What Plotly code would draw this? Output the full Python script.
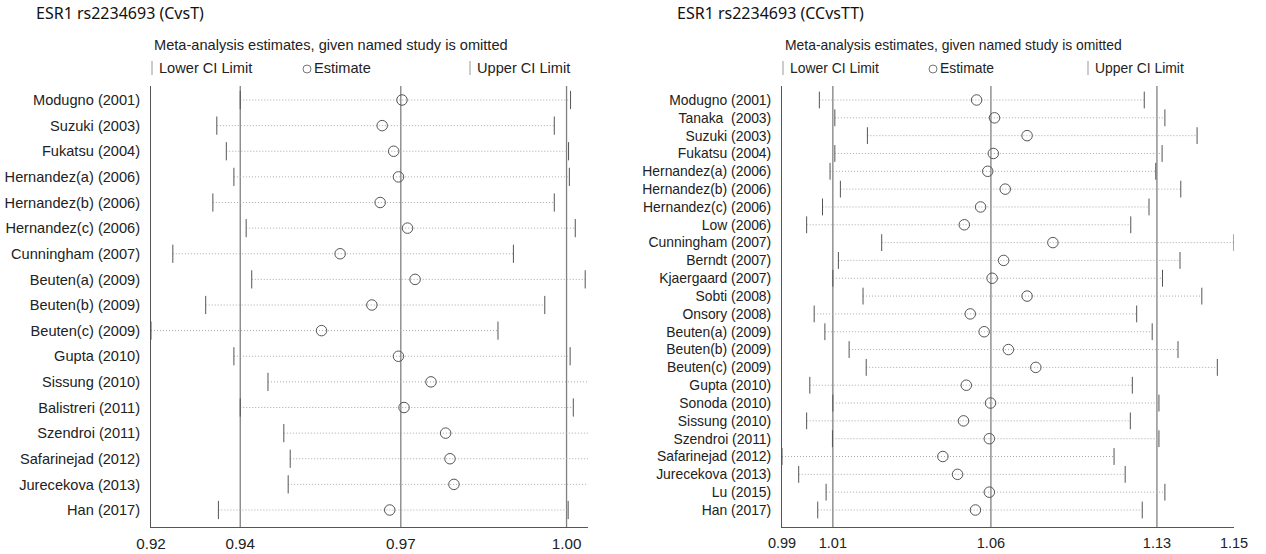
import plotly.graph_objects as go

# ---------------- data (left panel: CvsT) ----------------
left_title = "ESR1 rs2234693 (CvsT)"
left_studies = ["Modugno (2001)", "Suzuki (2003)", "Fukatsu (2004)", "Hernandez(a) (2006)",
                "Hernandez(b) (2006)", "Hernandez(c) (2006)", "Cunningham (2007)", "Beuten(a) (2009)",
                "Beuten(b) (2009)", "Beuten(c) (2009)", "Gupta (2010)", "Sissung (2010)",
                "Balistreri (2011)", "Szendroi (2011)", "Safarinejad (2012)", "Jurecekova (2013)",
                "Han (2017)"]
left_lower = [0.93718, 0.93267, 0.93450, 0.93596, 0.93191, 0.93832, 0.92420, 0.93939,
              0.93053, 0.92000, 0.93596, 0.94252, 0.93718, 0.94557, 0.94680, 0.94641, 0.93298]
left_est = [0.96832, 0.96451, 0.96672, 0.96764, 0.96412, 0.96939, 0.95641, 0.97084,
            0.96252, 0.95283, 0.96764, 0.97390, 0.96871, 0.97672, 0.97756, 0.97832, 0.96596]
left_upper = [1.00077, 0.99764, 1.00039, 1.00054, 0.99764, 1.00168, 0.98977, 1.00359,
              0.99581, 0.98680, 1.00069, 1.00500, 1.00130, 1.00500, 1.00500, 1.00500, 1.00031]
left_ref = [0.93718, 0.96809, 1.00000]          # overall lower CI, estimate, upper CI
left_tickvals = [0.92, 0.93718, 0.96809, 1.00000]
left_ticktext = ["0.92", "0.94", "0.97", "1.00"]
left_range = [0.92, 1.00413]

# ---------------- data (right panel: CCvsTT) ----------------
right_title = "ESR1 rs2234693 (CCvsTT)"
right_studies = ["Modugno (2001)", "Tanaka  (2003)", "Suzuki (2003)", "Fukatsu (2004)",
                 "Hernandez(a) (2006)", "Hernandez(b) (2006)", "Hernandez(c) (2006)", "Low (2006)",
                 "Cunningham (2007)", "Berndt (2007)", "Kjaergaard (2007)", "Sobti (2008)",
                 "Onsory (2008)", "Beuten(a) (2009)", "Beuten(b) (2009)", "Beuten(c) (2009)",
                 "Gupta (2010)", "Sonoda (2010)", "Sissung (2010)", "Szendroi (2011)",
                 "Safarinejad (2012)", "Jurecekova (2013)", "Lu (2015)", "Han (2017)"]
right_lower = [1.00322, 1.00870, 1.02023, 1.00870, 1.00701, 1.01067, 1.00434, 0.99872,
               1.02529, 1.00996, 1.00800, 1.01868, 1.00139, 1.00518, 1.01376, 1.01981,
               0.99984, 1.00800, 0.99872, 1.00786, 0.99000, 0.99591, 1.00561, 1.00265]
right_est = [1.05889, 1.06522, 1.07675, 1.06480, 1.06283, 1.06902, 1.06030, 1.05453,
             1.08589, 1.06845, 1.06438, 1.07675, 1.05664, 1.06156, 1.07014, 1.07984,
             1.05524, 1.06381, 1.05425, 1.06339, 1.04694, 1.05214, 1.06339, 1.05847]
right_upper = [1.11823, 1.12554, 1.13693, 1.12455, 1.12230, 1.13116, 1.11991, 1.11345,
               1.15000, 1.13088, 1.12469, 1.13861, 1.11555, 1.12104, 1.13018, 1.14410,
               1.11401, 1.12343, 1.11330, 1.12343, 1.10754, 1.11148, 1.12554, 1.11752]
right_ref = [1.00800, 1.06395, 1.12272]
right_tickvals = [0.99, 1.00800, 1.06395, 1.12272, 1.15]
right_ticktext = ["0.99", "1.01", "1.06", "1.13", "1.15"]
right_range = [0.99, 1.15]

# ---------------- layout constants ----------------
W, H = 1266, 554
PLOT_TOP, PLOT_BOT = 86, 527
SANS = "Liberation Sans, Arial, sans-serif"
TITLE_FONT = "Noto Sans, Open Sans, sans-serif"
DOT_COLOR = "#a8a8a8"
MARK_COLOR = "#555555"
REF_COLOR = "#808080"

panels = [
    dict(title=left_title, studies=left_studies, lower=left_lower, est=left_est, upper=left_upper,
         ref=left_ref, tickvals=left_tickvals, ticktext=left_ticktext, xrange=left_range,
         px=(151, 588), title_x=34, circ_x=307, upper_x=470, tick=13, circ=10.5, fs=14.6),
    dict(title=right_title, studies=right_studies, lower=right_lower, est=right_est, upper=right_upper,
         ref=right_ref, tickvals=right_tickvals, ticktext=right_ticktext, xrange=right_range,
         px=(782, 1234), title_x=675, circ_x=933, upper_x=1088, tick=12, circ=10.5, fs=13.9),
]

fig = go.Figure()
ydom = [1 - PLOT_BOT / H, 1 - PLOT_TOP / H]
layout = dict(width=W, height=H, margin=dict(l=0, r=0, t=0, b=0),
              paper_bgcolor="white", plot_bgcolor="white", showlegend=False,
              annotations=[], shapes=[])

row_top_px, row_bot_px = 100, 510


def px2x(xpx):
    return xpx / W


def px2y(ypx):
    return 1 - ypx / H


for k, p in enumerate(panels):
    n = len(p["studies"])
    xa = "x" if k == 0 else "x2"
    ya = "y" if k == 0 else "y2"
    xkey = "xaxis" if k == 0 else "xaxis2"
    ykey = "yaxis" if k == 0 else "yaxis2"
    ys = list(range(n))
    step = (row_bot_px - row_top_px) / (n - 1)
    y_top = -(row_top_px - PLOT_TOP) / step
    y_bot = (n - 1) + (PLOT_BOT - row_bot_px) / step

    # dotted CI lines
    lx, ly = [], []
    for i in range(n):
        lx += [p["lower"][i], p["upper"][i], None]
        ly += [i, i, None]
    fig.add_trace(go.Scatter(x=lx, y=ly, mode="lines", xaxis=xa, yaxis=ya,
                             line=dict(color=DOT_COLOR, width=1, dash="1px,2px"),
                             hoverinfo="skip"))
    # lower / upper limits
    for vals in (p["lower"], p["upper"]):
        fig.add_trace(go.Scatter(x=vals, y=ys, mode="markers", xaxis=xa, yaxis=ya,
                                 marker=dict(symbol="line-ns-open", size=p["tick"], color=MARK_COLOR,
                                             line=dict(color=MARK_COLOR, width=1))))
    # estimates
    fig.add_trace(go.Scatter(x=p["est"], y=ys, mode="markers", xaxis=xa, yaxis=ya,
                             marker=dict(symbol="circle-open", size=p["circ"], color=MARK_COLOR,
                                         line=dict(color=MARK_COLOR, width=1))))

    x0, x1 = p["px"]
    fs = p["fs"]
    layout[xkey] = dict(domain=[x0 / W, x1 / W], range=p["xrange"], showgrid=False,
                        zeroline=False, showline=True, linecolor="#555555", linewidth=1,
                        ticks="", tickvals=p["tickvals"], ticktext=p["ticktext"],
                        ticklabelstandoff=3,
                        tickfont=dict(family=SANS, size=fs + 0.6, color="#222222"),
                        anchor=ya, fixedrange=True, automargin=False)
    layout[ykey] = dict(domain=ydom, range=[y_bot, y_top], showgrid=False, zeroline=False,
                        showline=True, linecolor="#555555", linewidth=1, ticks="",
                        tickvals=ys, ticktext=p["studies"], ticklabelstandoff=7,
                        tickfont=dict(family=SANS, size=fs, color="#222222"),
                        anchor=xa, fixedrange=True, automargin=False)

    # reference vertical lines
    for v in p["ref"]:
        layout["shapes"].append(dict(type="line", xref=xa, yref="paper", x0=v, x1=v,
                                     y0=ydom[0], y1=ydom[1], layer="below",
                                     line=dict(color=REF_COLOR, width=1.3)))

    # titles / legend texts
    def ann(text, xpx, ypx, size, family, color="#222222", xanchor="left"):
        layout["annotations"].append(dict(text=text, x=px2x(xpx), y=px2y(ypx), xref="paper",
                                          yref="paper", showarrow=False, xanchor=xanchor,
                                          yanchor="middle", font=dict(family=family, size=size,
                                                                      color=color)))
    ann(p["title"], p["title_x"], 13, 16, TITLE_FONT, "#111111")
    ann("Meta-analysis estimates, given named study is omitted", x0 + 1, 45, fs, SANS)
    ann("Lower CI Limit", x0 + 6, 68, fs, SANS)
    ann("Estimate", p["circ_x"] + 5, 68, fs, SANS)
    ann("Upper CI Limit", p["upper_x"] + 5, 68, fs, SANS)

    # legend glyphs
    for bx in (x0 + 1, p["upper_x"]):
        layout["shapes"].append(dict(type="line", xref="paper", yref="paper",
                                     x0=px2x(bx), x1=px2x(bx), y0=px2y(75), y1=px2y(61),
                                     line=dict(color="#999999", width=1)))
    r = 4
    layout["shapes"].append(dict(type="circle", xref="paper", yref="paper",
                                 x0=px2x(p["circ_x"] - r), x1=px2x(p["circ_x"] + r),
                                 y0=px2y(69 + r), y1=px2y(69 - r),
                                 line=dict(color="#777777", width=1)))

fig.update_layout(**layout)
fig.write_html("out.html")
